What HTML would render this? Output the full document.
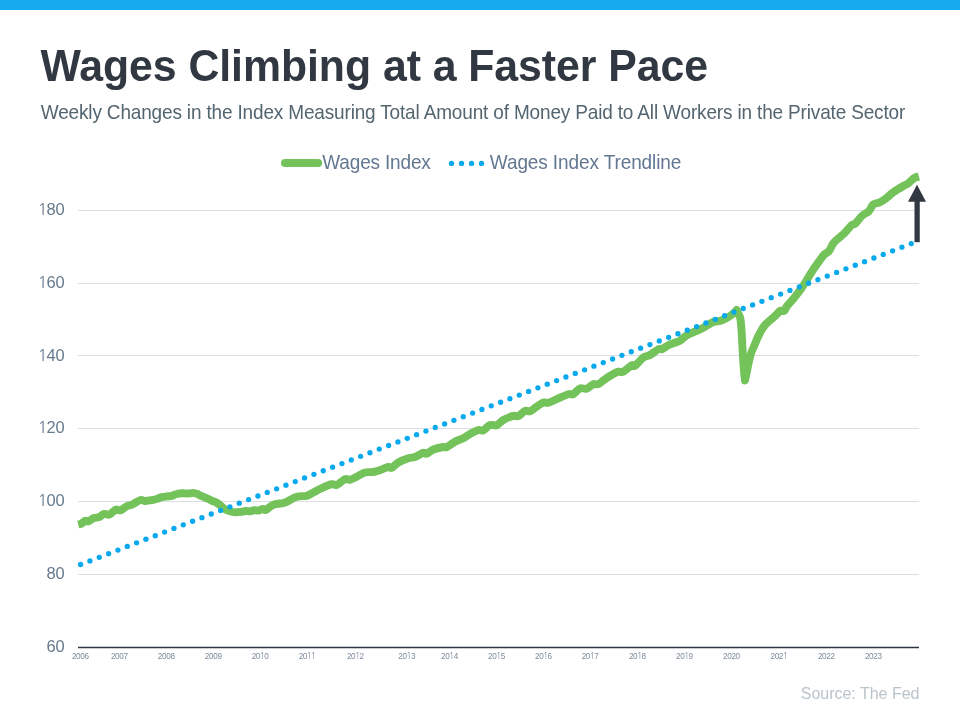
<!DOCTYPE html>
<html><head><meta charset="utf-8"><title>Wages Climbing at a Faster Pace</title>
<style>
html,body{margin:0;padding:0;background:#fff;}
body{width:960px;height:720px;overflow:hidden;position:relative;}
svg{position:absolute;left:0;top:0;will-change:transform;font-family:"Liberation Sans",Arial,sans-serif;}
</style></head>
<body>
<svg width="960" height="720" viewBox="0 0 960 720">
<rect x="0" y="0" width="960" height="10" fill="#15ABEE"/>
<text x="40.5" y="81" font-size="42.8" fill="#313842" font-weight="bold" textLength="667.5" lengthAdjust="spacing" transform="translate(0 81) scale(1 1.05) translate(0 -81)">Wages Climbing at a Faster Pace</text>
<text x="40.8" y="118.8" font-size="19" fill="#536570" textLength="864.5" lengthAdjust="spacing" transform="translate(0 118.8) scale(1 1.02) translate(0 -118.8)">Weekly Changes in the Index Measuring Total Amount of Money Paid to All Workers in the Private Sector</text>
<line x1="285" y1="163" x2="318.1" y2="163" stroke="#73C25A" stroke-width="8" stroke-linecap="round"/>
<text x="322.3" y="168.8" font-size="19" fill="#637790" textLength="108.5" lengthAdjust="spacing" transform="translate(0 168.8) scale(1 1.02) translate(0 -168.8)">Wages Index</text>
<g fill="#06A9EE"><circle cx="451.5" cy="163.4" r="2.65"/><circle cx="461.5" cy="163.4" r="2.65"/><circle cx="471.5" cy="163.4" r="2.65"/><circle cx="481.5" cy="163.4" r="2.65"/></g>
<text x="489.8" y="168.8" font-size="19" fill="#637790" textLength="191.5" lengthAdjust="spacing" transform="translate(0 168.8) scale(1 1.02) translate(0 -168.8)">Wages Index Trendline</text>
<line x1="78" y1="574.5" x2="919" y2="574.5" stroke="#DBDEE3" stroke-width="1"/><line x1="78" y1="501.5" x2="919" y2="501.5" stroke="#DBDEE3" stroke-width="1"/><line x1="78" y1="428.5" x2="919" y2="428.5" stroke="#DBDEE3" stroke-width="1"/><line x1="78" y1="355.5" x2="919" y2="355.5" stroke="#DBDEE3" stroke-width="1"/><line x1="78" y1="283.5" x2="919" y2="283.5" stroke="#DBDEE3" stroke-width="1"/><line x1="78" y1="210.5" x2="919" y2="210.5" stroke="#DBDEE3" stroke-width="1"/><text x="64.8" y="579.1" font-size="16.5" fill="#667A8E" text-anchor="end" transform="translate(0 579.1) scale(1 1.03) translate(0 -579.1)">80</text><text x="64.8" y="506.1" font-size="16.5" fill="#667A8E" text-anchor="end" transform="translate(0 506.1) scale(1 1.03) translate(0 -506.1)"><tspan font-family="NanumGothic, Liberation Sans, sans-serif" font-size="16">1</tspan><tspan dx="-1">00</tspan></text><text x="64.8" y="433.1" font-size="16.5" fill="#667A8E" text-anchor="end" transform="translate(0 433.1) scale(1 1.03) translate(0 -433.1)"><tspan font-family="NanumGothic, Liberation Sans, sans-serif" font-size="16">1</tspan><tspan dx="-1">20</tspan></text><text x="64.8" y="361.0" font-size="16.5" fill="#667A8E" text-anchor="end" transform="translate(0 361.0) scale(1 1.03) translate(0 -361.0)"><tspan font-family="NanumGothic, Liberation Sans, sans-serif" font-size="16">1</tspan><tspan dx="-1">40</tspan></text><text x="64.8" y="288.1" font-size="16.5" fill="#667A8E" text-anchor="end" transform="translate(0 288.1) scale(1 1.03) translate(0 -288.1)"><tspan font-family="NanumGothic, Liberation Sans, sans-serif" font-size="16">1</tspan><tspan dx="-1">60</tspan></text><text x="64.8" y="215.1" font-size="16.5" fill="#667A8E" text-anchor="end" transform="translate(0 215.1) scale(1 1.03) translate(0 -215.1)"><tspan font-family="NanumGothic, Liberation Sans, sans-serif" font-size="16">1</tspan><tspan dx="-1">80</tspan></text><text x="64.8" y="652.1" font-size="16.5" fill="#667A8E" text-anchor="end" transform="translate(0 652.1) scale(1 1.03) translate(0 -652.1)">60</text><text x="80.5" y="658.9" font-size="8.2" fill="#7D8B9C" text-anchor="middle" textLength="17.2" lengthAdjust="spacing" transform="translate(0 658.9) scale(1 1.1) translate(0 -658.9)">2006</text><text x="119.5" y="658.9" font-size="8.2" fill="#7D8B9C" text-anchor="middle" textLength="17.2" lengthAdjust="spacing" transform="translate(0 658.9) scale(1 1.1) translate(0 -658.9)">2007</text><text x="166.4" y="658.9" font-size="8.2" fill="#7D8B9C" text-anchor="middle" textLength="17.2" lengthAdjust="spacing" transform="translate(0 658.9) scale(1 1.1) translate(0 -658.9)">2008</text><text x="213.4" y="658.9" font-size="8.2" fill="#7D8B9C" text-anchor="middle" textLength="17.2" lengthAdjust="spacing" transform="translate(0 658.9) scale(1 1.1) translate(0 -658.9)">2009</text><text x="260.3" y="658.9" font-size="8.2" fill="#7D8B9C" text-anchor="middle" textLength="17.2" lengthAdjust="spacing" transform="translate(0 658.9) scale(1 1.1) translate(0 -658.9)">20<tspan font-family="NanumGothic, Liberation Sans, sans-serif" font-size="7.9">1</tspan>0</text><text x="307.3" y="658.9" font-size="8.2" fill="#7D8B9C" text-anchor="middle" textLength="17.2" lengthAdjust="spacing" transform="translate(0 658.9) scale(1 1.1) translate(0 -658.9)">20<tspan font-family="NanumGothic, Liberation Sans, sans-serif" font-size="7.9">1</tspan><tspan font-family="NanumGothic, Liberation Sans, sans-serif" font-size="7.9">1</tspan></text><text x="355.5" y="658.9" font-size="8.2" fill="#7D8B9C" text-anchor="middle" textLength="17.2" lengthAdjust="spacing" transform="translate(0 658.9) scale(1 1.1) translate(0 -658.9)">20<tspan font-family="NanumGothic, Liberation Sans, sans-serif" font-size="7.9">1</tspan>2</text><text x="406.9" y="658.9" font-size="8.2" fill="#7D8B9C" text-anchor="middle" textLength="17.2" lengthAdjust="spacing" transform="translate(0 658.9) scale(1 1.1) translate(0 -658.9)">20<tspan font-family="NanumGothic, Liberation Sans, sans-serif" font-size="7.9">1</tspan>3</text><text x="449.7" y="658.9" font-size="8.2" fill="#7D8B9C" text-anchor="middle" textLength="17.2" lengthAdjust="spacing" transform="translate(0 658.9) scale(1 1.1) translate(0 -658.9)">20<tspan font-family="NanumGothic, Liberation Sans, sans-serif" font-size="7.9">1</tspan>4</text><text x="496.7" y="658.9" font-size="8.2" fill="#7D8B9C" text-anchor="middle" textLength="17.2" lengthAdjust="spacing" transform="translate(0 658.9) scale(1 1.1) translate(0 -658.9)">20<tspan font-family="NanumGothic, Liberation Sans, sans-serif" font-size="7.9">1</tspan>5</text><text x="543.6" y="658.9" font-size="8.2" fill="#7D8B9C" text-anchor="middle" textLength="17.2" lengthAdjust="spacing" transform="translate(0 658.9) scale(1 1.1) translate(0 -658.9)">20<tspan font-family="NanumGothic, Liberation Sans, sans-serif" font-size="7.9">1</tspan>6</text><text x="590.3" y="658.9" font-size="8.2" fill="#7D8B9C" text-anchor="middle" textLength="17.2" lengthAdjust="spacing" transform="translate(0 658.9) scale(1 1.1) translate(0 -658.9)">20<tspan font-family="NanumGothic, Liberation Sans, sans-serif" font-size="7.9">1</tspan>7</text><text x="637.5" y="658.9" font-size="8.2" fill="#7D8B9C" text-anchor="middle" textLength="17.2" lengthAdjust="spacing" transform="translate(0 658.9) scale(1 1.1) translate(0 -658.9)">20<tspan font-family="NanumGothic, Liberation Sans, sans-serif" font-size="7.9">1</tspan>8</text><text x="684.6" y="658.9" font-size="8.2" fill="#7D8B9C" text-anchor="middle" textLength="17.2" lengthAdjust="spacing" transform="translate(0 658.9) scale(1 1.1) translate(0 -658.9)">20<tspan font-family="NanumGothic, Liberation Sans, sans-serif" font-size="7.9">1</tspan>9</text><text x="731.6" y="658.9" font-size="8.2" fill="#7D8B9C" text-anchor="middle" textLength="17.2" lengthAdjust="spacing" transform="translate(0 658.9) scale(1 1.1) translate(0 -658.9)">2020</text><text x="779.2" y="658.9" font-size="8.2" fill="#7D8B9C" text-anchor="middle" textLength="17.2" lengthAdjust="spacing" transform="translate(0 658.9) scale(1 1.1) translate(0 -658.9)">202<tspan font-family="NanumGothic, Liberation Sans, sans-serif" font-size="7.9">1</tspan></text><text x="826.5" y="658.9" font-size="8.2" fill="#7D8B9C" text-anchor="middle" textLength="17.2" lengthAdjust="spacing" transform="translate(0 658.9) scale(1 1.1) translate(0 -658.9)">2022</text><text x="873.5" y="658.9" font-size="8.2" fill="#7D8B9C" text-anchor="middle" textLength="17.2" lengthAdjust="spacing" transform="translate(0 658.9) scale(1 1.1) translate(0 -658.9)">2023</text>
<line x1="78" y1="647.5" x2="919" y2="647.5" stroke="#2E3640" stroke-width="1.3"/>
<path d="M78.2 524.4C78.6 524.3 79.6 524.6 80.8 524.0C82.0 523.4 84.1 521.2 85.4 520.8C86.7 520.4 87.1 521.9 88.5 521.4C89.9 520.9 92.0 518.7 93.8 518.0C95.5 517.3 97.3 517.9 99.0 517.2C100.7 516.5 102.5 514.3 104.2 513.9C105.9 513.5 107.5 515.3 109.4 514.6C111.3 513.9 113.7 510.4 115.6 509.7C117.5 509.0 118.9 510.8 120.8 510.2C122.7 509.6 125.2 506.9 127.1 506.0C129.0 505.1 130.2 505.5 132.3 504.5C134.5 503.5 137.9 500.8 140.0 500.2C142.1 499.6 143.5 500.9 145.0 501.0C146.5 501.1 147.6 500.7 149.0 500.5C150.4 500.3 151.9 500.1 153.3 499.8C154.7 499.5 156.1 499.2 157.5 498.8C158.9 498.3 159.9 497.5 161.7 497.1C163.5 496.7 166.6 496.4 168.3 496.2C170.0 496.1 170.3 496.4 171.7 496.0C173.1 495.6 174.9 494.4 176.7 494.0C178.5 493.6 180.8 493.4 182.5 493.3C184.2 493.2 185.4 493.5 186.7 493.5C187.9 493.5 188.9 493.5 190.0 493.4C191.1 493.3 192.1 492.8 193.3 492.9C194.6 493.0 196.4 493.6 197.5 494.0C198.6 494.4 198.9 494.9 200.0 495.4C201.1 495.9 202.8 496.6 204.2 497.2C205.6 497.8 206.9 498.3 208.3 498.9C209.7 499.5 211.1 500.4 212.5 501.0C213.9 501.6 215.3 501.9 216.7 502.7C218.1 503.5 219.4 504.7 220.8 505.8C222.2 506.9 223.6 508.3 225.0 509.2C226.4 510.1 227.5 510.5 229.2 511.0C230.9 511.5 232.9 512.2 235.0 512.3C237.1 512.4 239.9 512.0 241.7 511.8C243.5 511.6 244.4 511.1 245.8 511.0C247.2 510.9 248.6 511.4 250.0 511.2C251.4 511.1 252.8 510.3 254.2 510.2C255.6 510.1 256.9 510.8 258.3 510.6C259.7 510.4 261.2 509.0 262.5 508.9C263.8 508.8 264.4 510.4 265.8 510.0C267.2 509.6 269.3 507.2 270.8 506.2C272.3 505.3 273.5 504.8 275.0 504.3C276.5 503.8 278.3 503.8 280.0 503.5C281.7 503.2 282.2 503.6 285.0 502.5C287.8 501.4 293.1 497.8 296.7 496.7C300.3 495.6 303.9 496.5 306.7 495.8C309.5 495.1 311.1 493.6 313.3 492.5C315.5 491.4 316.9 490.4 320.0 489.0C323.1 487.6 328.9 484.9 331.7 484.2C334.5 483.5 334.5 485.8 336.7 485.0C338.9 484.2 342.8 480.1 345.0 479.2C347.2 478.3 348.1 480.2 350.0 479.8C351.9 479.4 354.2 477.9 356.7 476.7C359.2 475.5 362.2 473.3 365.0 472.5C367.8 471.7 370.5 472.5 373.3 472.0C376.1 471.5 379.2 470.3 381.7 469.5C384.2 468.7 386.6 467.3 388.3 467.0C390.0 466.7 390.0 468.6 391.7 467.8C393.4 467.1 395.5 464.1 398.3 462.5C401.1 460.9 405.5 459.2 408.3 458.3C411.1 457.4 412.5 457.9 415.0 457.0C417.5 456.1 421.4 453.4 423.3 452.8C425.2 452.2 425.0 454.2 426.7 453.7C428.4 453.1 430.5 450.6 433.3 449.5C436.1 448.4 441.1 447.4 443.3 447.0C445.5 446.6 444.8 448.1 446.7 447.2C448.6 446.3 452.2 443.2 455.0 441.7C457.8 440.2 460.8 439.6 463.3 438.3C465.8 437.0 467.5 435.4 470.0 434.0C472.5 432.6 476.1 430.6 478.3 430.0C480.5 429.4 481.4 431.1 483.3 430.3C485.2 429.5 487.8 425.8 490.0 425.0C492.2 424.2 494.5 426.1 496.7 425.3C498.9 424.5 500.5 421.6 503.3 420.0C506.1 418.4 510.8 416.4 513.3 415.8C515.8 415.2 516.3 417.0 518.3 416.2C520.2 415.4 523.0 411.6 525.0 410.8C527.0 410.0 528.0 411.9 530.0 411.2C532.0 410.5 534.5 408.1 536.7 406.7C538.9 405.2 541.4 403.1 543.3 402.5C545.2 401.9 546.1 403.4 548.3 402.8C550.5 402.2 553.4 400.6 556.7 399.2C560.0 397.8 565.5 395.0 568.3 394.2C571.1 393.4 571.3 395.2 573.3 394.2C575.2 393.2 577.8 389.2 580.0 388.3C582.2 387.4 584.5 389.4 586.7 388.7C588.9 388.0 591.4 384.9 593.3 384.2C595.2 383.4 596.3 385.0 598.3 384.2C600.2 383.4 602.5 380.9 605.0 379.2C607.5 377.5 611.1 375.2 613.3 374.0C615.5 372.8 616.6 372.1 618.3 371.7C620.0 371.3 621.1 372.8 623.3 371.7C625.5 370.6 629.8 366.3 631.7 365.3C633.7 364.3 633.1 367.1 635.0 365.8C636.9 364.5 640.8 359.3 643.3 357.5C645.8 355.7 647.5 356.4 650.0 355.0C652.5 353.6 656.3 350.2 658.3 349.2C660.2 348.2 660.0 349.8 661.7 349.2C663.4 348.6 665.8 346.5 668.3 345.3C670.8 344.1 674.8 342.8 676.7 342.0C678.7 341.2 678.3 341.9 680.0 340.8C681.7 339.7 683.9 337.0 686.7 335.3C689.5 333.6 693.9 332.1 696.7 330.8C699.5 329.6 700.5 329.3 703.3 327.8C706.1 326.3 710.5 323.1 713.3 322.0C716.1 320.9 717.7 321.6 720.0 320.9C722.3 320.2 724.7 319.2 727.0 317.9C729.3 316.6 732.3 314.3 733.9 313.0C735.5 311.7 736.1 310.5 736.6 310.0C737.2 311.3 739.4 314.7 740.2 318.0C741.0 321.3 741.1 324.7 741.5 330.0C741.9 335.3 742.2 343.3 742.6 350.0C743.0 356.7 743.5 364.9 743.9 370.0C744.3 375.1 744.8 378.8 745.0 380.5C745.4 378.4 746.9 371.4 747.6 368.0C748.3 364.6 748.6 362.7 749.3 360.0C749.9 357.3 750.5 354.7 751.5 352.0C752.5 349.3 754.0 346.4 755.0 344.0C756.0 341.6 756.7 339.7 757.7 337.5C758.7 335.3 759.8 333.1 761.0 331.0C762.2 328.9 763.2 327.0 765.0 325.0C766.8 323.0 769.8 320.7 771.9 318.8C774.0 316.9 776.1 314.8 777.5 313.5C778.9 312.2 779.2 311.2 780.3 310.8C781.4 310.4 783.1 311.6 784.2 310.8C785.3 310.0 785.5 308.1 787.1 306.0C788.7 303.9 791.6 301.0 793.9 298.2C796.2 295.4 798.6 292.3 800.7 289.4C802.8 286.4 804.6 283.6 806.5 280.5C808.4 277.4 810.0 274.4 812.3 271.0C814.5 267.6 818.0 262.8 820.0 260.0C822.0 257.2 822.9 255.9 824.4 254.4C825.9 252.9 827.4 252.9 828.9 251.1C830.4 249.2 831.8 245.3 833.3 243.3C834.8 241.3 835.9 240.6 837.8 238.9C839.6 237.2 842.2 235.5 844.4 233.3C846.6 231.1 849.2 227.3 851.1 225.6C853.0 223.9 853.8 225.0 855.6 223.3C857.5 221.6 860.0 217.6 862.2 215.6C864.4 213.6 867.0 213.0 868.9 211.1C870.8 209.2 871.4 205.9 873.3 204.4C875.1 202.9 877.8 203.3 880.0 202.2C882.2 201.1 884.5 199.5 886.7 197.8C888.9 196.1 890.5 194.2 893.3 192.2C896.1 190.2 900.9 187.4 903.3 186.0C905.7 184.6 906.2 184.7 907.5 183.9C908.8 183.1 909.5 182.1 910.8 181.0C912.0 179.9 913.6 178.3 915.0 177.6C916.4 176.9 918.2 176.8 918.9 176.6" fill="none" stroke="#73C25A" stroke-width="7.9" stroke-linejoin="round" stroke-linecap="butt"/>
<g fill="#06A9EE"><circle cx="80.60" cy="564.50" r="2.65"/><circle cx="89.93" cy="560.89" r="2.65"/><circle cx="99.27" cy="557.29" r="2.65"/><circle cx="108.60" cy="553.68" r="2.65"/><circle cx="117.93" cy="550.08" r="2.65"/><circle cx="127.27" cy="546.47" r="2.65"/><circle cx="136.60" cy="542.87" r="2.65"/><circle cx="145.93" cy="539.26" r="2.65"/><circle cx="155.27" cy="535.66" r="2.65"/><circle cx="164.60" cy="532.05" r="2.65"/><circle cx="173.93" cy="528.44" r="2.65"/><circle cx="183.26" cy="524.84" r="2.65"/><circle cx="192.60" cy="521.23" r="2.65"/><circle cx="201.93" cy="517.63" r="2.65"/><circle cx="211.26" cy="514.02" r="2.65"/><circle cx="220.60" cy="510.42" r="2.65"/><circle cx="229.93" cy="506.81" r="2.65"/><circle cx="239.26" cy="503.20" r="2.65"/><circle cx="248.60" cy="499.60" r="2.65"/><circle cx="257.93" cy="495.99" r="2.65"/><circle cx="267.26" cy="492.39" r="2.65"/><circle cx="276.60" cy="488.78" r="2.65"/><circle cx="285.93" cy="485.18" r="2.65"/><circle cx="295.26" cy="481.57" r="2.65"/><circle cx="304.60" cy="477.97" r="2.65"/><circle cx="313.93" cy="474.36" r="2.65"/><circle cx="323.26" cy="470.75" r="2.65"/><circle cx="332.59" cy="467.15" r="2.65"/><circle cx="341.93" cy="463.54" r="2.65"/><circle cx="351.26" cy="459.94" r="2.65"/><circle cx="360.59" cy="456.33" r="2.65"/><circle cx="369.93" cy="452.73" r="2.65"/><circle cx="379.26" cy="449.12" r="2.65"/><circle cx="388.59" cy="445.51" r="2.65"/><circle cx="397.93" cy="441.91" r="2.65"/><circle cx="407.26" cy="438.30" r="2.65"/><circle cx="416.59" cy="434.70" r="2.65"/><circle cx="425.93" cy="431.09" r="2.65"/><circle cx="435.26" cy="427.49" r="2.65"/><circle cx="444.59" cy="423.88" r="2.65"/><circle cx="453.93" cy="420.28" r="2.65"/><circle cx="463.26" cy="416.67" r="2.65"/><circle cx="472.59" cy="413.06" r="2.65"/><circle cx="481.93" cy="409.46" r="2.65"/><circle cx="491.26" cy="405.85" r="2.65"/><circle cx="500.59" cy="402.25" r="2.65"/><circle cx="509.92" cy="398.64" r="2.65"/><circle cx="519.26" cy="395.04" r="2.65"/><circle cx="528.59" cy="391.43" r="2.65"/><circle cx="537.92" cy="387.82" r="2.65"/><circle cx="547.26" cy="384.22" r="2.65"/><circle cx="556.59" cy="380.61" r="2.65"/><circle cx="565.92" cy="377.01" r="2.65"/><circle cx="575.26" cy="373.40" r="2.65"/><circle cx="584.59" cy="369.80" r="2.65"/><circle cx="593.92" cy="366.19" r="2.65"/><circle cx="603.26" cy="362.59" r="2.65"/><circle cx="612.59" cy="358.98" r="2.65"/><circle cx="621.92" cy="355.37" r="2.65"/><circle cx="631.26" cy="351.77" r="2.65"/><circle cx="640.59" cy="348.16" r="2.65"/><circle cx="649.92" cy="344.56" r="2.65"/><circle cx="659.26" cy="340.95" r="2.65"/><circle cx="668.59" cy="337.35" r="2.65"/><circle cx="677.92" cy="333.74" r="2.65"/><circle cx="687.25" cy="330.13" r="2.65"/><circle cx="696.59" cy="326.53" r="2.65"/><circle cx="705.92" cy="322.92" r="2.65"/><circle cx="715.25" cy="319.32" r="2.65"/><circle cx="724.59" cy="315.71" r="2.65"/><circle cx="733.92" cy="312.11" r="2.65"/><circle cx="743.25" cy="308.50" r="2.65"/><circle cx="752.59" cy="304.90" r="2.65"/><circle cx="761.92" cy="301.29" r="2.65"/><circle cx="771.25" cy="297.68" r="2.65"/><circle cx="780.59" cy="294.08" r="2.65"/><circle cx="789.92" cy="290.47" r="2.65"/><circle cx="799.25" cy="286.87" r="2.65"/><circle cx="808.59" cy="283.26" r="2.65"/><circle cx="817.92" cy="279.66" r="2.65"/><circle cx="827.25" cy="276.05" r="2.65"/><circle cx="836.58" cy="272.44" r="2.65"/><circle cx="845.92" cy="268.84" r="2.65"/><circle cx="855.25" cy="265.23" r="2.65"/><circle cx="864.58" cy="261.63" r="2.65"/><circle cx="873.92" cy="258.02" r="2.65"/><circle cx="883.25" cy="254.42" r="2.65"/><circle cx="892.58" cy="250.81" r="2.65"/><circle cx="901.92" cy="247.21" r="2.65"/><circle cx="911.25" cy="243.60" r="2.65"/></g>
<rect x="914.5" y="200" width="5.25" height="42.2" fill="#313842"/>
<polygon points="908,201.7 926,201.7 917,184.7" fill="#313842"/>
<text x="919.5" y="698.6" font-size="16" fill="#B9C4CB" text-anchor="end" transform="translate(0 698.6) scale(1 1.035) translate(0 -698.6)">Source: The Fed</text>
</svg>
</body></html>
